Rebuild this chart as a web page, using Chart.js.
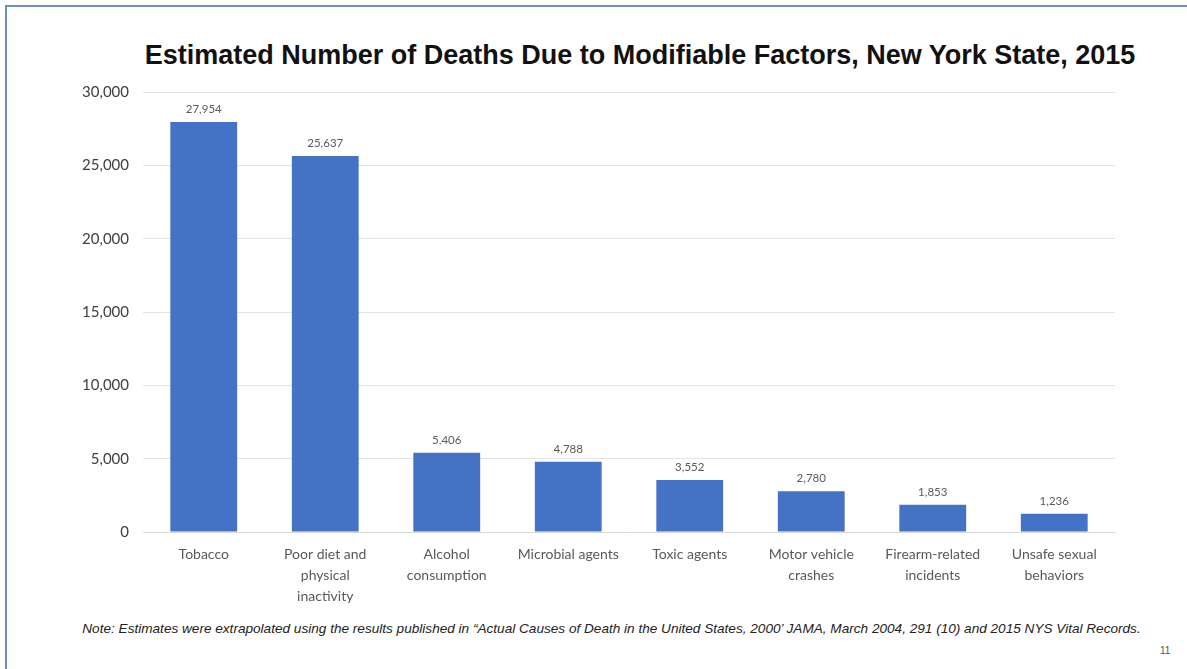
<!DOCTYPE html>
<html>
<head>
<meta charset="utf-8">
<script src="https://cdn.jsdelivr.net/npm/chart.js@4"></script>
<style>
  html, body { margin: 0; padding: 0; background: #fff; }
  body { width: 1187px; height: 669px; position: relative; overflow: hidden; }
  #frame { position: absolute; left: 5px; top: 5px; right: 0; bottom: 0;
           border-left: 2px solid #6d8ec6; border-top: 2px solid #6d8ec6; }
  #title { position: absolute; left: 0; width: 1280px; top: 40px; text-align: center;
           font: bold 27px "Liberation Sans", Arial, sans-serif; color: #111; white-space: nowrap; }
  #box { position: absolute; left: 0; top: 0; width: 1187px; height: 615px; }
  #note { position: absolute; left: 0; width: 1223px; top: 621px; text-align: center;
          font: italic 13.6px "Liberation Sans", Arial, sans-serif; color: #222; white-space: nowrap; }
  #page { position: absolute; left: 1160px; top: 645px; font: 10px "Liberation Sans", Arial, sans-serif; color: #555; }
</style>
</head>
<body>
<div id="frame"></div>
<div id="title">Estimated Number of Deaths Due to Modifiable Factors, New York State, 2015</div>
<div id="box"><canvas id="deathsChart"></canvas></div>
<div id="note">Note: Estimates were extrapolated using the results published in “Actual Causes of Death in the United States, 2000’ JAMA, March 2004, 291 (10) and 2015 NYS Vital Records.</div>
<div id="page">11</div>
<script>
// categories and values
const factors = [
  "Tobacco",
  ["Poor diet and", "physical", "inactivity"],
  ["Alcohol", "consumption"],
  "Microbial agents",
  "Toxic agents",
  ["Motor vehicle", "crashes"],
  ["Firearm-related", "incidents"],
  ["Unsafe sexual", "behaviors"]
];
const deaths = [27954, 25637, 5406, 4788, 3552, 2780, 1853, 1236];
const yTicks = [0, 5000, 10000, 15000, 20000, 25000, 30000];

// draws the number above every bar
const valueLabels = {
  id: "valueLabels",
  afterDatasetsDraw(chart) {
    const ctx = chart.ctx;
    const meta = chart.getDatasetMeta(0);
    ctx.save();
    ctx.font = "11.5px Lato";
    ctx.fillStyle = "#595959";
    ctx.textAlign = "center";
    ctx.textBaseline = "bottom";
    meta.data.forEach((bar, i) => {
      ctx.fillText(deaths[i].toLocaleString("en-US"), bar.x, bar.y - 7);
    });
    ctx.restore();
  }
};

const canvas = document.getElementById("deathsChart");
new Chart(canvas, {
  type: "bar",
  data: {
    labels: factors,
    datasets: [{
      data: deaths,
      backgroundColor: "#4472C4",
      barPercentage: 0.55,
      categoryPercentage: 1
    }]
  },
  options: {
    responsive: true,
    maintainAspectRatio: false,
    animation: false,
    layout: { padding: { left: 0, right: 72, top: 92, bottom: 0 } },
    plugins: {
      legend: { display: false },
      tooltip: { enabled: false }
    },
    scales: {
      x: {
        grid: { display: false, drawTicks: false },
        border: { color: "#d9d9d9" },
        ticks: {
          font: { family: "Lato", size: 14, lineHeight: 1.5 },
          color: "#595959",
          padding: 12,
          maxRotation: 0,
          autoSkip: false
        },
        afterFit(s) { s.height = 83; }
      },
      y: {
        min: 0,
        max: 30000,
        grid: { color: "#e3e3e3", drawTicks: false },
        border: { display: false },
        ticks: {
          stepSize: 5000,
          font: { family: "Lato", size: 15 },
          color: "#404040",
          padding: 14,
          callback: v => yTicks.includes(v) ? v.toLocaleString("en-US") : ""
        },
        afterFit(s) { s.width = 143; }
      }
    }
  },
  plugins: [valueLabels]
});
</script>
</body>
</html>
